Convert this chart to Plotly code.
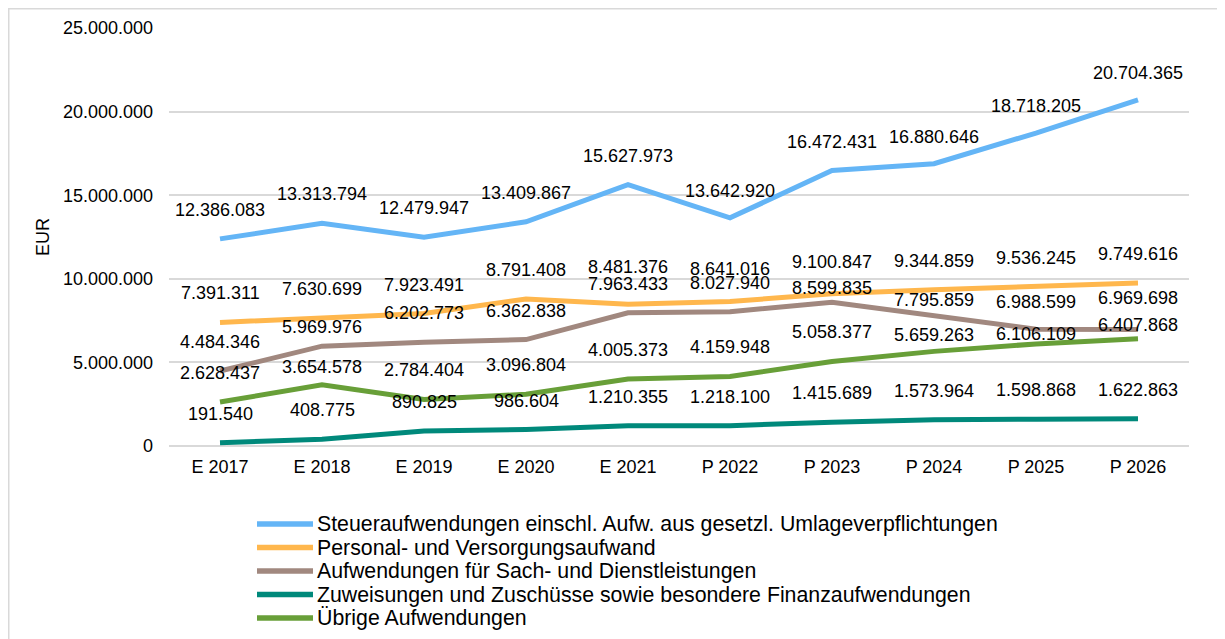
import plotly.graph_objects as go

categories = ["E 2017", "E 2018", "E 2019", "E 2020", "E 2021",
              "P 2022", "P 2023", "P 2024", "P 2025", "P 2026"]

steuer = [12386083, 13313794, 12479947, 13409867, 15627973,
          13642920, 16472431, 16880646, 18718205, 20704365]
personal = [7391311, 7630699, 7923491, 8791408, 8481376,
            8641016, 9100847, 9344859, 9536245, 9749616]
sach = [4484346, 5969976, 6202773, 6362838, 7963433,
        8027940, 8599835, 7795859, 6988599, 6969698]
zuweisungen = [191540, 408775, 890825, 986604, 1210355,
               1218100, 1415689, 1573964, 1598868, 1622863]
uebrige = [2628437, 3654578, 2784404, 3096804, 4005373,
           4159948, 5058377, 5659263, 6106109, 6407868]

series_names = [
    "Steueraufwendungen einschl. Aufw. aus gesetzl. Umlageverpflichtungen",
    "Personal- und Versorgungsaufwand",
    "Aufwendungen für Sach- und Dienstleistungen",
    "Zuweisungen und Zuschüsse sowie besondere Finanzaufwendungen",
    "Übrige Aufwendungen",
]
series_values = [steuer, personal, sach, zuweisungen, uebrige]
series_colors = ["#64B5F6", "#FFB74D", "#A1887F", "#00897B", "#689F38"]

FONT = "Liberation Sans, Arial, sans-serif"

# label placement (pixels above the point); defaults to 29
DEFAULT_LABEL_SHIFT = 29
label_shift = {
    (0, 5): 27, (0, 7): 27, (0, 8): 27, (0, 9): 27,
    (1, 4): 37.5, (1, 5): 33, (1, 6): 31.5,
    (2, 1): 19, (2, 6): 14, (2, 7): 15.6, (2, 8): 27.5, (2, 9): 31,
    (4, 1): 17.6, (4, 7): 16.4, (4, 8): 10, (4, 9): 14,
}

# figure geometry (pixels, page has an 8px body offset)
OFF = 8
W, H = 1225, 639
ML, MR, MT, MB = 169 - OFF, 44, 28 - OFF, H - (446 - OFF)
PW, PH = W - ML - MR, H - MT - MB


def px_x(p):
    return (p - OFF - ML) / PW


def px_y(p):
    return (H - MB - (p - OFF)) / PH


fig = go.Figure()
annotations = []
shapes = []
for i, (name, vals, color) in enumerate(zip(series_names, series_values, series_colors)):
    fig.add_trace(go.Scatter(
        x=categories, y=vals, name=name, mode="lines",
        line=dict(color=color, width=5), showlegend=False,
    ))
    for j, (c, v) in enumerate(zip(categories, vals)):
        annotations.append(dict(
            x=c, y=v, xref="x", yref="y",
            yshift=label_shift.get((i, j), DEFAULT_LABEL_SHIFT),
            text=f"{v:,}".replace(",", "."), showarrow=False,
            font=dict(family=FONT, size=18, color="#000000"),
        ))
    # legend entry
    ly = px_y(524 + i * 23.5)
    shapes.append(dict(type="line", xref="paper", yref="paper",
                       x0=px_x(257), x1=px_x(313), y0=ly, y1=ly,
                       line=dict(color=color, width=5.5)))
    annotations.append(dict(
        x=px_x(315), y=ly, xref="paper", yref="paper",
        xanchor="left", yanchor="middle", text=name, showarrow=False,
        font=dict(family=FONT, size=21.3, color="#000000"),
    ))

shapes.append(dict(type="rect", xref="paper", yref="paper",
                   x0=px_x(OFF + 0.75), x1=1.2, y0=-0.6, y1=px_y(OFF + 0.75),
                   line=dict(color="#D9D9D9", width=1.5), layer="below"))

fig.update_layout(
    width=W, height=H,
    margin=dict(l=ML, r=MR, t=MT, b=MB),
    paper_bgcolor="white", plot_bgcolor="white",
    separators=",.",
    font=dict(family=FONT, size=18, color="#000000"),
    showlegend=False,
    annotations=annotations,
    shapes=shapes,
)
fig.update_xaxes(
    type="category", range=[-0.5, 9.5], showgrid=False, zeroline=False,
    showline=False, ticks="", ticklabelstandoff=8, automargin=False,
    tickfont=dict(family=FONT, size=18, color="#000000"),
)
fig.update_yaxes(
    range=[0, 25000000], dtick=5000000, tickformat=",d",
    showgrid=True, gridcolor="#D9D9D9", gridwidth=1.5,
    zeroline=True, zerolinecolor="#D9D9D9", zerolinewidth=1.5,
    showline=False, ticks="", ticklabelstandoff=15, automargin=False,
    tickfont=dict(family=FONT, size=18, color="#000000"),
    title=dict(text="EUR", standoff=8, font=dict(family=FONT, size=18, color="#000000")),
)

fig.write_html("out.html")
